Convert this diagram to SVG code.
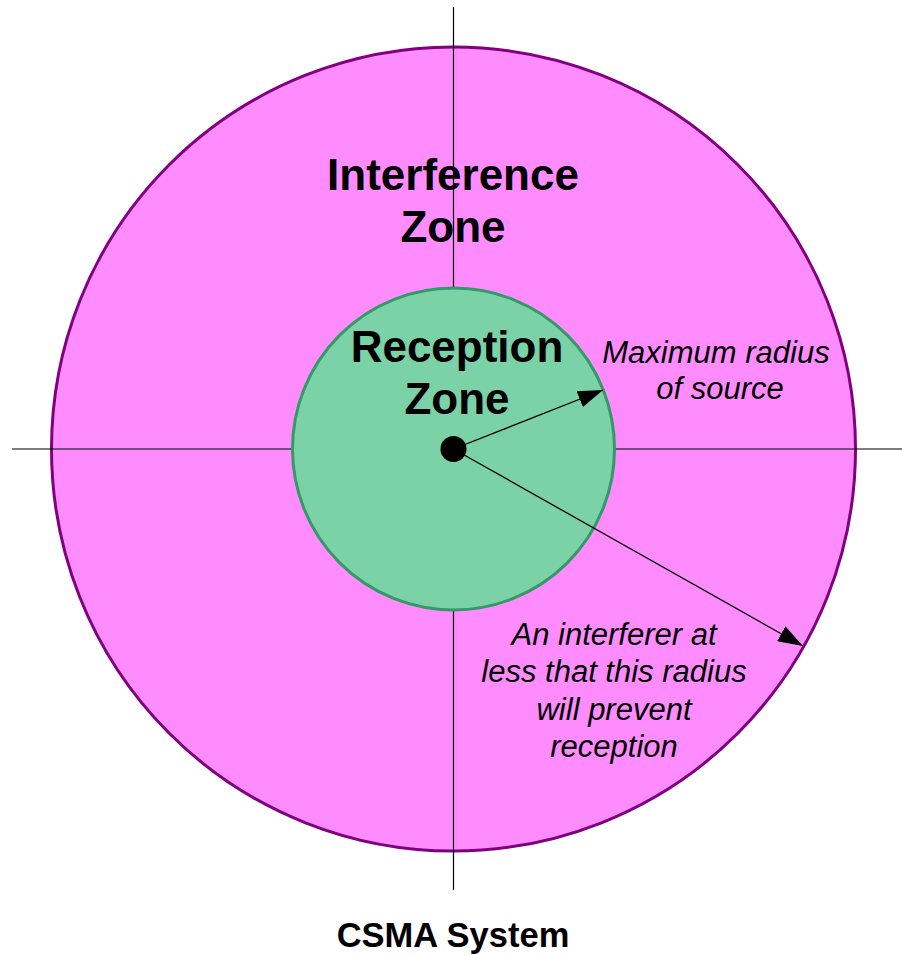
<svg xmlns="http://www.w3.org/2000/svg" width="902" height="955" viewBox="0 0 902 955">
<style>
.b{font-family:"Liberation Sans",Arial,sans-serif;font-weight:bold;fill:#000;text-anchor:middle}
.i{font-family:"Liberation Sans",Arial,sans-serif;font-style:italic;fill:#000;text-anchor:middle;font-size:31px}
.ax{stroke:#000;stroke-width:1.2}
.ar{stroke:#000;stroke-width:1.3;fill:none;marker-end:url(#ah)}
</style>
<defs>
<marker id="ah" viewBox="0 0 25 17" refX="25" refY="8.5" markerWidth="25" markerHeight="17" markerUnits="userSpaceOnUse" orient="auto">
<path d="M0,0 L25,8.5 L0,17 Z" fill="#000"/>
</marker>
</defs>
<rect width="902" height="955" fill="#fff"/>
<g id="interference-zone">
<circle cx="453.5" cy="449" r="402" fill="#FF8CFF" stroke="#800080" stroke-width="3"/>
</g>
<g id="axes">
<line class="ax" x1="453.5" y1="7" x2="453.5" y2="890"/>
<line class="ax" x1="12" y1="449" x2="902" y2="449"/>
</g>
<g id="reception-zone">
<circle cx="453.5" cy="449" r="161" fill="#7AD2A6" stroke="#339966" stroke-width="3"/>
</g>
<g id="connectors">
<line class="ar" x1="453.5" y1="449" x2="603" y2="390"/>
<line class="ar" x1="453.5" y1="449" x2="803" y2="646"/>
</g>
<g id="source">
<circle cx="453.5" cy="449" r="13" fill="#000"/>
</g>
<g id="labels">
<text class="b" font-size="44" x="453" y="190">Interference</text>
<text class="b" font-size="44" x="453" y="242">Zone</text>
<text class="b" font-size="44" x="457" y="362">Reception</text>
<text class="b" font-size="44" x="457" y="414">Zone</text>
<text class="i" x="716" y="363">Maximum radius</text>
<text class="i" x="720" y="399">of source</text>
<text class="i" x="614" y="645">An interferer at</text>
<text class="i" x="614" y="682">less that this radius</text>
<text class="i" x="614" y="720">will prevent</text>
<text class="i" x="614" y="757">reception</text>
<text class="b" font-size="34.5" x="453" y="947">CSMA System</text>
</g>
</svg>
